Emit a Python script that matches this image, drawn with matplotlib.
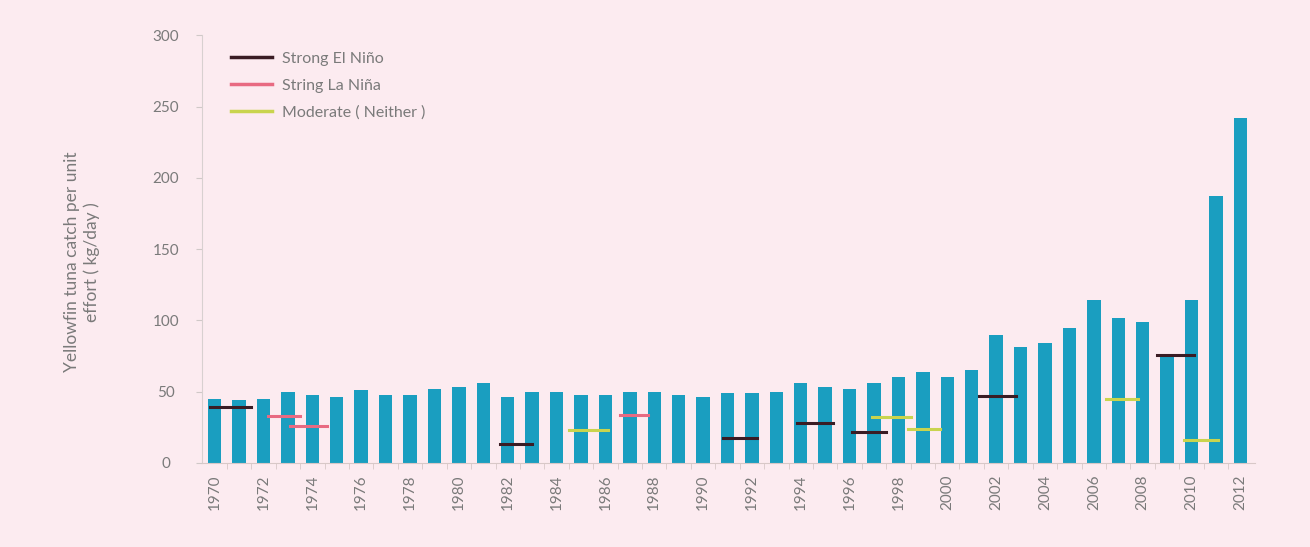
import numpy as np
import matplotlib
matplotlib.use('Agg')
import matplotlib.pyplot as plt
from matplotlib.lines import Line2D

plt.rcParams['font.family'] = ['Lato', 'DejaVu Sans']
plt.rcParams['font.size'] = 11

years = list(range(1970, 2013))
cpue = [45, 44, 45, 50, 48, 46, 51, 48, 48, 52,
        53, 56, 46, 50, 50, 48, 48, 50, 50, 48,
        46, 49, 49, 50, 56, 53, 52, 56, 60, 64,
        60, 65, 90, 81, 84, 95, 114, 102, 99, 76,
        114, 187, 242]

# event segments: (start, end, level)
el_nino = [(1969.8, 1971.5, 39), (1981.7, 1983.0, 13), (1990.8, 1992.2, 17.5),
           (1993.85, 1995.3, 28), (1996.1, 1997.5, 22), (2001.3, 2002.8, 47),
           (2008.6, 2010.1, 76)]
la_nina = [(1972.2, 1973.5, 33), (1973.1, 1974.6, 26), (1986.6, 1987.75, 34)]
neither = [(1984.5, 1986.1, 23), (1996.9, 1998.5, 32), (1998.4, 1999.7, 24),
           (2006.5, 2007.8, 45), (2009.7, 2011.1, 16)]

bg = '#fcebf0'
grey = '#7a7a7a'
c_nino = '#3a1c24'
c_nina = '#e86a82'
c_neither = '#c9d44e'

fig = plt.figure(figsize=(13.1, 5.47), dpi=100, facecolor=bg)
ax = fig.add_axes([0.154, 0.1536, 0.804, 0.782])
ax.set_facecolor(bg)

ax.bar(years, cpue, width=0.55, color='#1a9ec0', zorder=2)

for segs, c in [(el_nino, c_nino), (la_nina, c_nina), (neither, c_neither)]:
    for s, e, v in segs:
        ax.plot([s, e], [v, v], color=c, linewidth=2.2, zorder=3)

ax.set_xlim(1969.47, 2012.6)
ax.set_ylim(0, 300)
ax.set_yticks(range(0, 301, 50))
ax.set_xticks(years[::2])
ax.set_xticks([y + 0.5 for y in years[:-1]], minor=True)
ax.tick_params(axis='x', which='major', length=0, labelrotation=90, colors=grey, labelsize=11, pad=8)
ax.tick_params(axis='x', which='minor', length=4, color='#d8c8c8')
ax.tick_params(axis='y', length=4, color='#d0c8c8', colors=grey, labelsize=11, pad=22)
for lab in ax.get_yticklabels():
    lab.set_horizontalalignment('center')

for side in ['top', 'right']:
    ax.spines[side].set_visible(False)
ax.spines['left'].set_color('#d8d0d0')
ax.spines['bottom'].set_color('#d8c8c8')

ax.set_ylabel('Yellowfin tuna catch per unit\neffort ( kg/day )', color=grey, fontsize=12.5)
ax.yaxis.set_label_coords(-0.097, 0.47)

handles = [Line2D([], [], color=c_nino, linewidth=2.5),
           Line2D([], [], color=c_nina, linewidth=2.5),
           Line2D([], [], color=c_neither, linewidth=2.5)]
labels = ['Strong El Niño', 'String La Niña', 'Moderate ( Neither )']
leg = ax.legend(handles, labels, loc='upper left', bbox_to_anchor=(0.014, 0.995), frameon=False,
                handlelength=2.6, handletextpad=0.6, labelspacing=0.8, fontsize=11.5)
for t in leg.get_texts():
    t.set_color(grey)

fig.savefig('out.png', dpi=100, facecolor=bg)
